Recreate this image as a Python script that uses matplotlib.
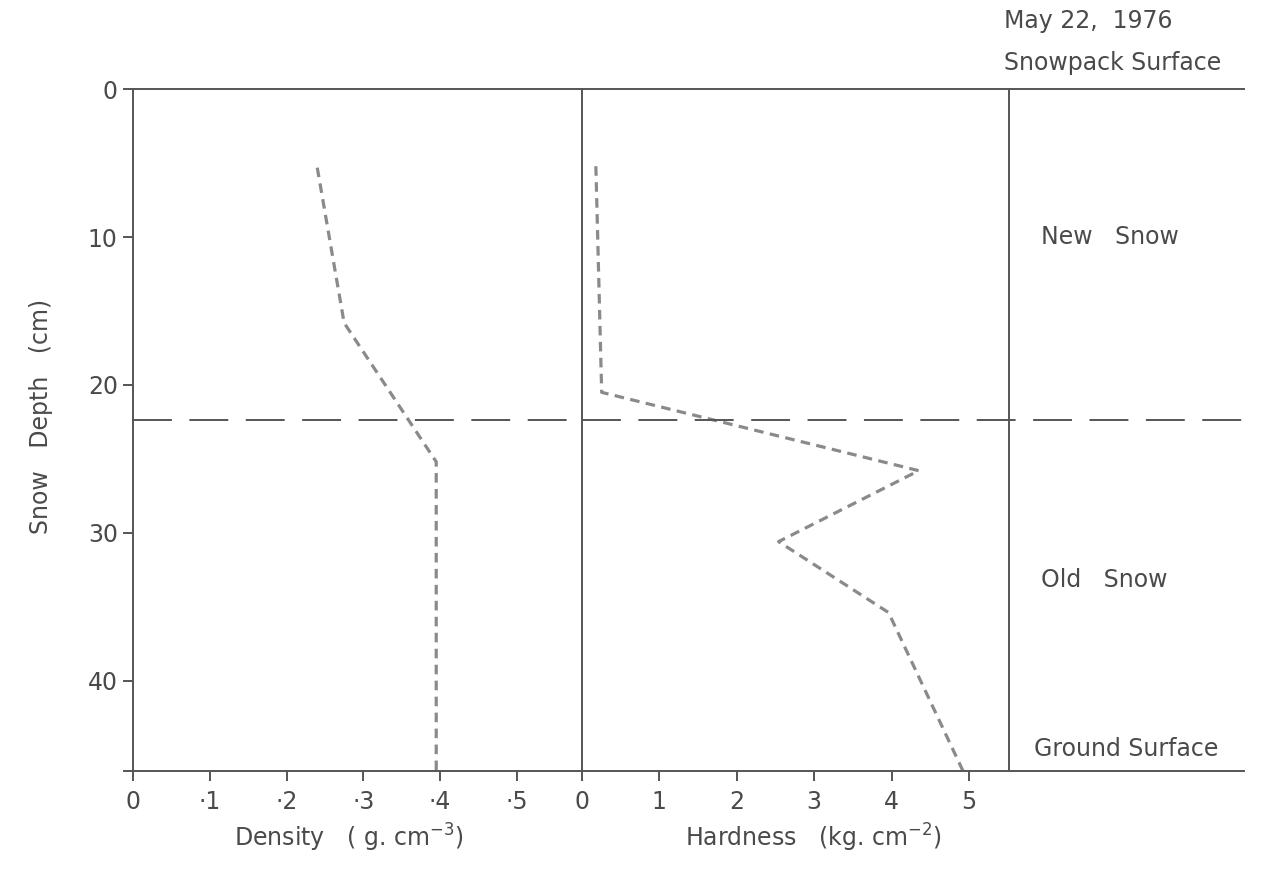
import matplotlib
matplotlib.use('Agg')
import matplotlib.pyplot as plt

# snow pit profile, May 22 1976
density = [0.24, 0.275, 0.395, 0.395]            # g cm-3
density_depth = [5.3, 15.8, 25.2, 46.1]          # cm
hardness = [0.18, 0.255, 4.35, 2.54, 3.96, 4.92]  # kg cm-2
hardness_depth = [5.2, 20.5, 25.8, 30.6, 35.4, 46.1]

boundary_depth = 22.35   # new snow / old snow interface
ground_depth = 46.1
hardness_edge = 5.52     # right frame line of the hardness panel

depth_ticks = [0, 10, 20, 30, 40]
density_ticks = [0, 0.1, 0.2, 0.3, 0.4, 0.5]
density_labels = ['0', '·1', '·2', '·3', '·4', '·5']
hardness_ticks = [0, 1, 2, 3, 4, 5]

txt = '#4a4a4a'
frame = '#555555'
curve = '#8a8a8a'
fs = 17

fig = plt.figure(figsize=(12.67, 8.76), dpi=100)
ax1 = fig.add_axes([0.105, 0.1202, 0.3544, 0.7778])
ax2 = fig.add_axes([0.4593, 0.1202, 0.5225, 0.7778])

ax1.plot(density, density_depth, color=curve, lw=2.3, dashes=(3, 2))
ax2.plot(hardness, hardness_depth, color=curve, lw=2.3, dashes=(3, 2))

for ax in (ax1, ax2):
    ax.axhline(boundary_depth, color=frame, lw=1.4, dashes=(20, 9))
    ax.set_ylim(ground_depth, 0)
    for s in ax.spines.values():
        s.set_color(frame)
        s.set_linewidth(1.4)
    ax.tick_params(colors=frame, labelcolor=txt, labelsize=fs, width=1.4, length=7, pad=7)
ax1.tick_params(axis='y', pad=4)

ax1.set_xlim(0, 0.585)
ax1.spines['right'].set_visible(False)
ax1.set_xticks(density_ticks)
ax1.set_xticklabels(density_labels)
ax1.set_yticks(depth_ticks + [ground_depth])
ax1.set_yticklabels([str(t) for t in depth_ticks] + [''])

ax2.set_xlim(0, 8.55)
ax2.spines['right'].set_visible(False)
ax2.set_xticks(hardness_ticks)
ax2.set_yticks([])
ax2.axvline(hardness_edge, color=frame, lw=1.4)

ax1.set_ylabel('Snow   Depth   (cm)', fontsize=fs, color=txt)
ax1.yaxis.set_label_coords(-0.178, 0.52)
ax1.set_xlabel('Density   ( g. cm$^{-3}$)', fontsize=fs, color=txt)
ax1.xaxis.set_label_coords(0.48, -0.075)
ax2.set_xlabel('Hardness   (kg. cm$^{-2}$)', fontsize=fs, color=txt)
ax2.xaxis.set_label_coords(0.35, -0.075)

ax2.text(5.93, 10, 'New   Snow', fontsize=fs, color=txt, va='center')
ax2.text(5.93, 33.2, 'Old   Snow', fontsize=fs, color=txt, va='center')
ax2.text(5.84, 44.6, 'Ground Surface', fontsize=fs, color=txt, va='center')
ax2.text(5.45, -1.8, 'Snowpack Surface', fontsize=fs, color=txt, va='center', clip_on=False)
ax2.text(5.45, -4.6, 'May 22,  1976', fontsize=fs, color=txt, va='center', clip_on=False)

fig.savefig('out.png', dpi=100)
